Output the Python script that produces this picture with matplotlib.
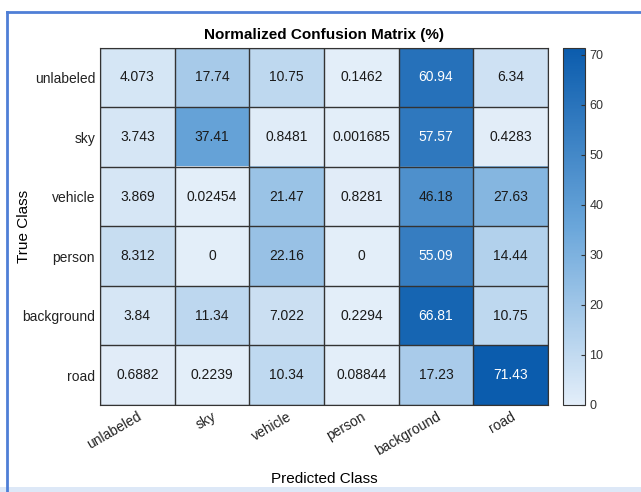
import numpy as np
import matplotlib.pyplot as plt
from matplotlib.colors import LinearSegmentedColormap
from matplotlib.patches import Rectangle
from matplotlib.lines import Line2D

classes = ['unlabeled', 'sky', 'vehicle', 'person', 'background', 'road']
cm_labels = [
    ['4.073', '17.74', '10.75', '0.1462', '60.94', '6.34'],
    ['3.743', '37.41', '0.8481', '0.001685', '57.57', '0.4283'],
    ['3.869', '0.02454', '21.47', '0.8281', '46.18', '27.63'],
    ['8.312', '0', '22.16', '0', '55.09', '14.44'],
    ['3.84', '11.34', '7.022', '0.2294', '66.81', '10.75'],
    ['0.6882', '0.2239', '10.34', '0.08844', '17.23', '71.43'],
]
cm = np.array([[float(v) for v in row] for row in cm_labels])

plt.rcParams['font.family'] = ['Liberation Sans', 'DejaVu Sans']

cmap = LinearSegmentedColormap.from_list('mblues', ['#e3eef9', '#6aa6da', '#0b5cad'])

fig = plt.figure(figsize=(6.41, 4.92), dpi=100)
ax = fig.add_axes([0.156, 0.177, 0.699, 0.726])
im = ax.imshow(cm, cmap=cmap, vmin=0, vmax=cm.max(), aspect='auto')

n = len(classes)
for i in range(n):
    for j in range(n):
        color = 'white' if cm[i, j] > 50 else '#1a1a1a'
        ax.text(j, i, cm_labels[i][j], ha='center', va='center', fontsize=10, color=color)

# cell borders
ax.set_xticks(np.arange(-0.5, n, 1), minor=True)
ax.set_yticks(np.arange(-0.5, n, 1), minor=True)
ax.grid(which='minor', color='#333333', linewidth=1)
ax.tick_params(which='minor', length=0)
ax.tick_params(which='major', length=0, labelsize=10, colors='#222222')
ax.set_xticks(range(n))
ax.set_yticks(range(n))
ax.set_xticklabels(classes, rotation=30, ha='right', rotation_mode='anchor')
ax.set_yticklabels(classes)
for s in ax.spines.values():
    s.set_color('#333333')

ax.set_title('Normalized Confusion Matrix (%)', fontsize=11, fontweight='bold', pad=6)
ax.set_xlabel('Predicted Class', fontsize=11, labelpad=10)
ax.set_ylabel('True Class', fontsize=11)
ax.yaxis.set_label_coords(-0.155, 0.5)

cax = fig.add_axes([0.878, 0.177, 0.034, 0.726])
cb = fig.colorbar(im, cax=cax, ticks=[0, 10, 20, 30, 40, 50, 60, 70])
cb.outline.set_edgecolor('#333333')
cax.tick_params(labelsize=9, colors='#333333', direction='in', length=3)

# screenshot frame
fig.patches.append(Rectangle((0, 0), 1, 5 / 492, transform=fig.transFigure,
                             facecolor='#dde8f7', edgecolor='none'))
x0, y0 = 7 / 641, 1 - 12 / 492
fig.lines.append(Line2D([x0, x0], [0, y0], transform=fig.transFigure,
                        color='#4f7fd6', linewidth=2))
fig.lines.append(Line2D([x0, 1], [y0, y0], transform=fig.transFigure,
                        color='#4f7fd6', linewidth=2))

fig.savefig('out.png', dpi=100)
